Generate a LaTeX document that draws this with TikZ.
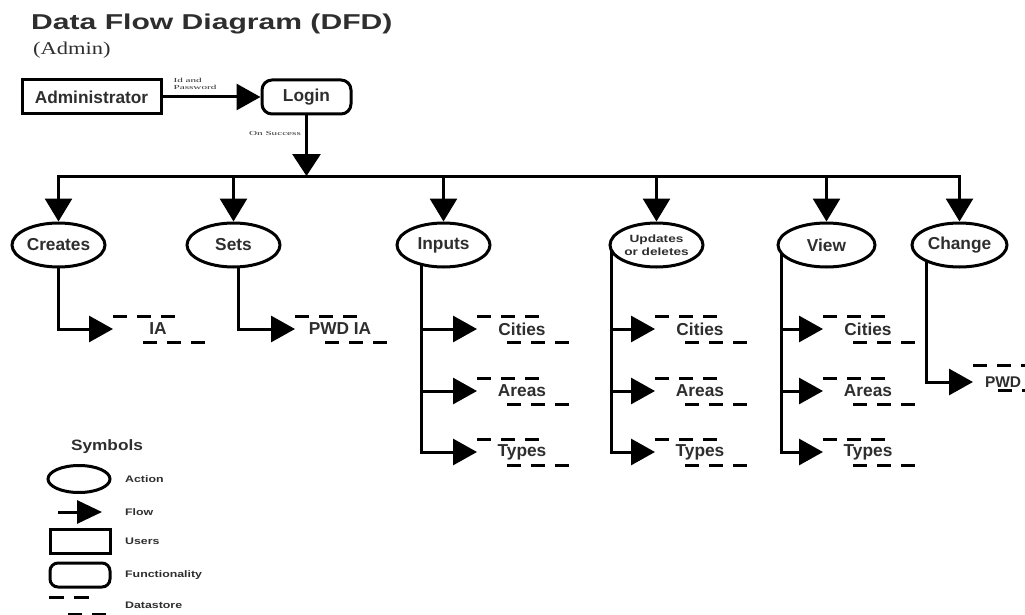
\documentclass[tikz,border=0pt]{standalone}
\usepackage{fontspec}
\setmainfont{Liberation Sans}
\newfontfamily\titlefont[FakeStretch=1.4]{Liberation Sans}
\newfontfamily\subfont[FakeStretch=1.25]{Liberation Serif}
\newfontfamily\tinyserif[FakeStretch=1.8]{Liberation Serif}
\newfontfamily\legfont[FakeStretch=1.3]{Liberation Sans}
\newfontfamily\symfont[FakeStretch=1.15]{Liberation Sans}
\usetikzlibrary{arrows.meta,shapes.geometric,backgrounds,calc}
\definecolor{txt}{gray}{0.18}
\newcommand{\nodefont}{\fontsize{17.3}{19}\selectfont\bfseries}
\begin{document}
\begin{tikzpicture}[x=1pt,y=-1pt,
  ln/.style={line width=3pt},
  flow/.style={ln,-{Triangle[length=24pt,width=26pt]}},
  user/.style={draw,ln,rectangle,minimum width=139pt,minimum height=34pt,inner sep=0,text=txt,font=\nodefont},
  func/.style={draw,ln,rectangle,rounded corners=10pt,minimum width=89pt,minimum height=34pt,inner sep=0,text=txt,font=\nodefont},
  act/.style={draw,ln,ellipse,minimum width=93pt,minimum height=44pt,inner sep=0,fill=white,text=txt,font=\nodefont},
  store/.style={minimum width=90pt,minimum height=26pt,inner sep=0,outer sep=0,text=txt,font=\nodefont},
  dsline/.style={line width=3pt,dash pattern=on 14pt off 10pt},
  leglabel/.style={anchor=west,inner sep=0,text=txt,font=\legfont\fontsize{9.5}{10}\selectfont\bfseries},
  tinylabel/.style={inner sep=0,text=txt,font=\tinyserif\fontsize{6.2}{7.5}\selectfont}
]
\useasboundingbox (0,0) rectangle (1025,615);

% title
\node[anchor=base west,inner sep=0,text=txt,font=\titlefont\fontsize{21.5}{24}\selectfont\bfseries] (title) at (31,29.5) {Data Flow Diagram (DFD)};
\node[anchor=base west,inner sep=0,text=txt,font=\subfont\fontsize{18}{20}\selectfont] (sub) at (33,55) {(Admin)};

% top
\node[user] (admin) at (91.5,97) {Administrator};
\node[func] (login) at (306.5,97) {Login};
\draw[flow] (admin) -- (login);
\node[tinylabel,align=left] (idpw) at (195,84) {Id and\\Password};
\coordinate (bus) at (306.5,176);
\draw[flow,-{Triangle[length=22pt,width=28pt]}] (login) -- (bus);
\node[tinylabel] (succ) at (275,133) {On Success};

% actions
\node[act] (creates) at (58.5,245) {Creates};
\node[act] (sets) at (233.5,245) {Sets};
\node[act] (inputs) at (443.5,245) {Inputs};
\node[act,align=center,font=\legfont\fontsize{10.5}{12.5}\selectfont\bfseries] (updates) at (656.5,245) {Updates\\or deletes};
\node[act,minimum width=97pt] (view) at (826.5,245) {View};
\node[act,minimum width=95pt] (change) at (959.5,245) {Change};

\draw[ln,line cap=rect] (creates.north |- bus) -- (change.north |- bus);
\foreach \n in {creates,sets,inputs,updates,view,change}
  \draw[flow,-{Triangle[length=23pt,width=27pt]}] (\n.north |- bus) -- (\n.north);

% data stores
\node[store] (dsIA) at (158,329) {IA};
\node[store] (dsPWDIA) at (340,329) {PWD IA};
\node[store] (dsCi1) at (522,329) {Cities};
\node[store] (dsAr1) at (522,391) {Areas};
\node[store] (dsTy1) at (522,452) {Types};
\node[store] (dsCi2) at (700,329) {Cities};
\node[store] (dsAr2) at (700,391) {Areas};
\node[store] (dsTy2) at (700,452) {Types};
\node[store] (dsCi3) at (868,329) {Cities};
\node[store] (dsAr3) at (868,391) {Areas};
\node[store] (dsTy3) at (868,452) {Types};
\node[store,anchor=west,minimum width=0pt,font=\fontsize{15.5}{17}\selectfont\bfseries] (dsPWD) at (973,382) {\hspace*{12pt}PWD};

\foreach \n in {dsIA,dsPWDIA,dsCi1,dsAr1,dsTy1,dsCi2,dsAr2,dsTy2,dsCi3,dsAr3,dsTy3} {
  \draw[dsline] ($(\n.west)+(0,-13)$) -- ++(62,0);
  \draw[dsline] ($(\n.west)+(30,13)$) -- ++(63,0);
}
\draw[dsline] ($(dsPWD.west)+(0,-17)$) -- ++(62,0);
\draw[dsline] ($(dsPWD.west)+(25,8)$) -- ++(63,0);

% flows to data stores
\begin{scope}[on background layer]
  \draw[flow] (creates.center) |- (dsIA.west);
  \draw[flow] ([xshift=4.5pt]sets.center) |- (dsPWDIA.west);
  \coordinate (vin) at ([xshift=-22.5pt]inputs.center);
  \draw[flow] (vin) |- (dsTy1.west);
  \coordinate (vup) at ([xshift=3pt]updates.west);
  \draw[flow] (vup) |- (dsTy2.west);
  \coordinate (vvw) at ([xshift=4.5pt]view.west);
  \draw[flow] (vvw) |- (dsTy3.west);
  \draw[flow] ([xshift=-33.5pt]change.center) |- (dsPWD.west);
\end{scope}
\draw[flow] (vin |- dsCi1.west) -- (dsCi1.west);
\draw[flow] (vin |- dsAr1.west) -- (dsAr1.west);
\draw[flow] (vup |- dsCi2.west) -- (dsCi2.west);
\draw[flow] (vup |- dsAr2.west) -- (dsAr2.west);
\draw[flow] (vvw |- dsCi3.west) -- (dsCi3.west);
\draw[flow] (vvw |- dsAr3.west) -- (dsAr3.west);

% legend
\node[inner sep=0,text=txt,font=\symfont\fontsize{15}{17}\selectfont\bfseries] (sym) at (107,447) {Symbols};
\node[act,minimum width=62pt,minimum height=27pt] (lgact) at (79,479) {};
\node[leglabel] (lgacttxt) at (125,479) {Action};
\coordinate (lgfa) at (58,512);
\coordinate (lgfb) at (102,512);
\draw[ln,-{Triangle[length=25pt,width=23pt]}] (lgfa) -- (lgfb);
\node[leglabel] (lgflowtxt) at (125,512) {Flow};
\node[user,minimum width=60pt,minimum height=24pt] (lguser) at (80,541) {};
\node[leglabel] (lgusertxt) at (125,541) {Users};
\node[func,minimum width=60pt,minimum height=24pt,rounded corners=8pt] (lgfunc) at (80,575) {};
\node[leglabel] (lgfunctxt) at (125,575) {Functionality};
\draw[dsline,dash pattern=on 15pt off 10pt] (49,597) -- (89,597);
\draw[dsline] (68,614) -- (106,614);
\node[leglabel] (lgdstxt) at (125,605) {Datastore};
\end{tikzpicture}
\end{document}
